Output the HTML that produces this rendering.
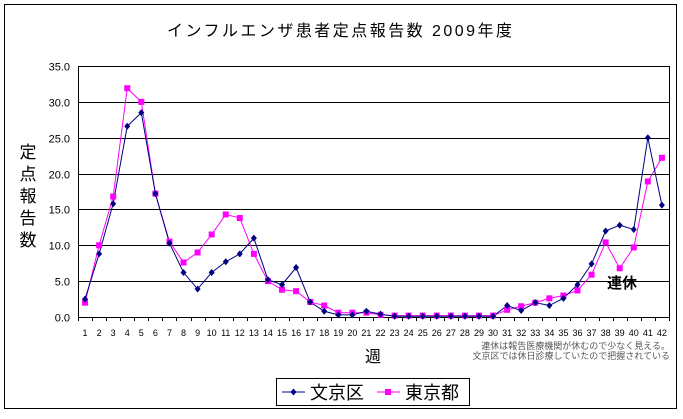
<!DOCTYPE html>
<html><head><meta charset="utf-8"><style>
body{margin:0;background:#fff}
svg text{font-family:"Liberation Sans","Noto Sans CJK JP",sans-serif}
</style></head><body>
<svg width="683" height="414" xmlns="http://www.w3.org/2000/svg">
<rect x="4.5" y="4.5" width="672" height="404" fill="#fff" stroke="#000" stroke-width="1"/>
<text x="167" y="36" font-size="16" textLength="345" lengthAdjust="spacing">インフルエンザ患者定点報告数  2009年度</text>
<g id="grid" stroke="#000" stroke-width="1"></g>
<rect x="78.5" y="66.5" width="591" height="251" fill="none" stroke="#000"/>
<g id="yl" font-size="11" text-anchor="end" fill="#000"></g>
<g id="xl" font-size="9" text-anchor="middle" fill="#000"></g>
<g font-size="17" text-anchor="middle"><text x="28" y="158">定</text><text x="28" y="180">点</text><text x="28" y="202">報</text><text x="28" y="224">告</text><text x="28" y="246">数</text></g>
<text x="373" y="362" font-size="16" text-anchor="middle">週</text>
<text x="670" y="349" font-size="9" text-anchor="end" fill="#555">連休は報告医療機関が休むので少なく見える。</text>
<text x="670" y="359" font-size="9" text-anchor="end" fill="#555">文京区では休日診療していたので把握されている</text>
<text x="607" y="288" font-size="15" font-weight="bold">連休</text>
<polyline id="tk" fill="none" stroke="#ff00ff" stroke-width="1"/>
<polyline id="bk" fill="none" stroke="#000080" stroke-width="1"/>
<g id="tm" fill="#ff00ff"></g><g id="bm" fill="#000080"></g>
<rect x="276.5" y="378.5" width="193" height="27" fill="#fff" stroke="#000"/>
<line x1="282" y1="392" x2="305" y2="392" stroke="#000080"/><path d="M293.5 388.5l3 3.5-3 3.5-3-3.5z" fill="#000080"/>
<text x="310" y="399" font-size="18">文京区</text>
<line x1="377" y1="392" x2="400" y2="392" stroke="#ff00ff"/><rect x="385" y="389" width="6" height="6" fill="#ff00ff"/>
<text x="405" y="399" font-size="18">東京都</text>
</svg>
<script>
const B=[2.5,8.8,15.8,26.6,28.5,17.2,10.3,6.2,3.9,6.2,7.7,8.8,11.0,5.2,4.5,6.9,2.1,0.8,0.3,0.3,0.8,0.4,0.1,0.1,0.1,0.1,0.1,0.1,0.1,0.1,1.6,0.9,2.0,1.6,2.6,4.5,7.4,12.0,12.8,12.2,25.0,15.6];
const T=[2.0,10.0,16.8,31.9,30.0,17.2,10.5,7.6,9.0,11.5,14.3,13.8,8.8,5.0,3.8,3.6,2.1,1.6,0.6,0.6,0.6,0.3,0.2,0.2,0.2,0.2,0.2,0.2,0.2,0.2,1.0,1.5,2.0,2.6,3.0,3.7,5.9,10.4,6.8,9.7,18.9,22.2];
const ns="http://www.w3.org/2000/svg";
const X=i=>78+14.07*(i+0.5), Y=v=>317-v*251/35;
function el(p,t,a,txt){const e=document.createElementNS(ns,t);for(const k in a)e.setAttribute(k,a[k]);if(txt)e.textContent=txt;document.getElementById(p).appendChild(e);}
for(let v=0;v<=35;v+=5){const y=Math.round(Y(v))+.5;if(v>0&&v<35)el('grid','line',{x1:78,x2:669,y1:y,y2:y});el('yl','text',{x:70,y:y+4},v.toFixed(1));}
for(let i=0;i<=42;i++){const x=Math.round(78+14.07*i)+.5;el('grid','line',{x1:x,x2:x,y1:317,y2:321});}
for(let i=0;i<42;i++)el('xl','text',{x:X(i),y:336},String(i+1));
document.getElementById('tk').setAttribute('points',T.map((v,i)=>X(i)+','+Y(v)).join(' '));
document.getElementById('bk').setAttribute('points',B.map((v,i)=>X(i)+','+Y(v)).join(' '));
T.forEach((v,i)=>el('tm','rect',{x:X(i)-3,y:Y(v)-3,width:6,height:6}));
B.forEach((v,i)=>{const x=X(i),y=Y(v);el('bm','path',{d:`M${x} ${y-3.5}l3 3.5-3 3.5-3-3.5z`});});
</script>
</body></html>
